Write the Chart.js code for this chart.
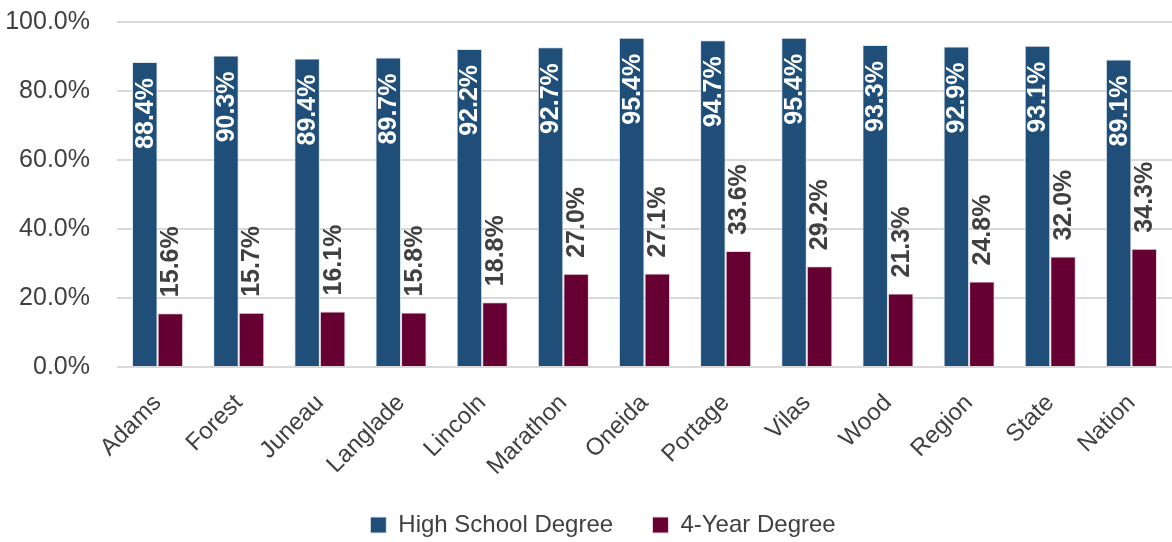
<!DOCTYPE html>
<html>
<head>
<meta charset="utf-8">
<script src="https://cdn.jsdelivr.net/npm/chart.js@4"></script>
<style>
  html, body { margin: 0; padding: 0; background: #fff; }
  #wrap { width: 1172px; height: 542px; position: relative; }
</style>
</head>
<body>
<div id="wrap"><canvas id="columnChart"></canvas></div>
<script>
const categories = ['Adams', 'Forest', 'Juneau', 'Langlade', 'Lincoln', 'Marathon', 'Oneida', 'Portage', 'Vilas', 'Wood', 'Region', 'State', 'Nation'];
const highSchool = [88.4, 90.3, 89.4, 89.7, 92.2, 92.7, 95.4, 94.7, 95.4, 93.3, 92.9, 93.1, 89.1];
const fourYear = [15.6, 15.7, 16.1, 15.8, 18.8, 27.0, 27.1, 33.6, 29.2, 21.3, 24.8, 32.0, 34.3];
const yTicks = [0, 20, 40, 60, 80, 100];

const FONT = '"Liberation Sans", Arial, sans-serif';

// draw the rotated value labels
const barLabels = {
  id: 'barLabels',
  afterDatasetsDraw(chart) {
    const ctx = chart.ctx;
    chart.data.datasets.forEach(function(ds, i) {
      const meta = chart.getDatasetMeta(i);
      meta.data.forEach(function(bar, j) {
        const txt = ds.data[j].toFixed(1) + '%';
        ctx.save();
        ctx.translate(bar.x, bar.y);
        ctx.rotate(-Math.PI / 2);
        ctx.font = 'bold 25px ' + FONT;
        ctx.textBaseline = 'middle';
        if (i === 0) {
          ctx.fillStyle = '#ffffff';
          ctx.textAlign = 'right';
          ctx.fillText(txt, -16, 1);
        } else {
          ctx.fillStyle = '#404040';
          ctx.textAlign = 'left';
          ctx.fillText(txt, 16, 1);
        }
        ctx.restore();
      });
    });
  }
};

// nudge the legend a little right and down, like the original
const legendShift = {
  id: 'legendShift',
  afterLayout(chart) {
    chart.legend.left += 17;
    chart.legend.right += 17;
    chart.legend.top += 5;
    chart.legend.bottom += 5;
  }
};

function createColumnChart() {
  const data = {
    labels: categories,
    datasets: [
      {
        label: 'High School Degree',
        data: highSchool,
        backgroundColor: '#1F4E79',
        borderColor: '#dfe6ee',
        borderWidth: 1
      },
      {
        label: '4-Year Degree',
        data: fourYear,
        backgroundColor: '#660033',
        borderColor: '#ead8e0',
        borderWidth: 1
      }
    ]
  };

  const ctx = document.getElementById('columnChart').getContext('2d');

  new Chart(ctx, {
    type: 'bar',
    data: data,
    plugins: [barLabels, legendShift],
    options: {
      responsive: true,
      maintainAspectRatio: false,
      animation: false,
      categoryPercentage: 0.63,
      barPercentage: 1.0,
      layout: { padding: 0 },
      plugins: {
        tooltip: { enabled: false },
        legend: {
          position: 'bottom',
          labels: {
            boxWidth: 16,
            boxHeight: 16,
            padding: 6,
            color: '#404040',
            font: { size: 24, family: FONT },
            generateLabels: function(chart) {
              const items = Chart.defaults.plugins.legend.labels.generateLabels(chart);
              // widen the gap between the two entries
              items[0].text = items[0].text + '     ';
              return items;
            }
          }
        }
      },
      scales: {
        x: {
          grid: { display: false },
          border: { display: false },
          afterFit: function(axis) { axis.height = 135; },
          ticks: {
            color: '#404040',
            maxRotation: 45,
            minRotation: 45,
            padding: 14,
            font: { size: 24, family: FONT }
          }
        },
        y: {
          min: 0,
          max: 100,
          afterBuildTicks: function(axis) {
            axis.ticks = yTicks.map(function(v) { return { value: v }; });
          },
          afterFit: function(axis) {
            axis.width = 117;
            axis.paddingTop = 22;
            axis.paddingBottom = 0;
          },
          grid: { color: '#d9d9d9', lineWidth: 2, drawTicks: false },
          border: { display: false },
          ticks: {
            color: '#404040',
            padding: 27,
            font: { size: 25, family: FONT },
            callback: function(v) { return v.toFixed(1) + '%'; }
          }
        }
      }
    }
  });
}

document.addEventListener('DOMContentLoaded', createColumnChart);
</script>
</body>
</html>
